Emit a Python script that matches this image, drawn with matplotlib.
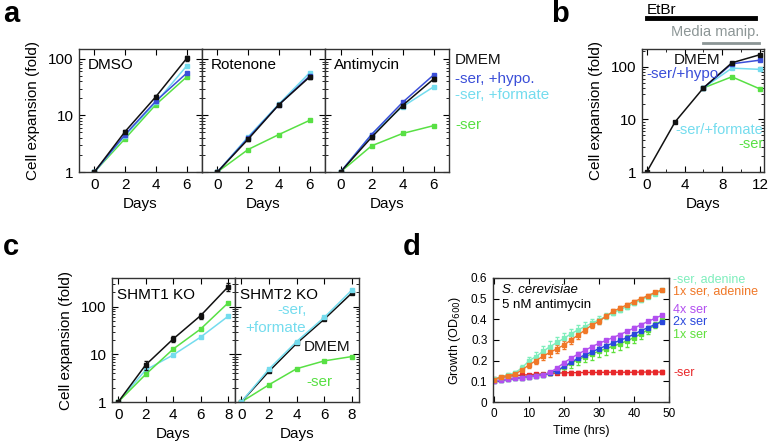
import numpy as np
import matplotlib
matplotlib.use('Agg')
import matplotlib.pyplot as plt
from matplotlib.ticker import LogLocator, NullFormatter, FixedLocator, FixedFormatter

plt.rcParams['font.family'] = ['Liberation Sans', 'DejaVu Sans']
plt.rcParams['font.size'] = 10
plt.rcParams['axes.linewidth'] = 1.0
plt.rcParams['axes.edgecolor'] = '#333333'

# colours
c_dmem = '#111111'
c_hypo = '#3b4fd8'
c_form = '#74dcee'
c_ser = '#58e044'

# ---------------- panel a ----------------
days_a = [0, 2, 4, 6]
a_titles = ['DMSO', 'Rotenone', 'Antimycin']
a_dmem = [[1, 5.2, 21.5, 102], [1, 3.8, 15.5, 48], [1, 4.1, 15, 44]]
a_hypo = [[1, 4.6, 18, 56], [1, 4.0, 15.5, 50], [1, 4.6, 17, 52]]
a_form = [[1, 4.4, 17, 75], [1, 4.2, 16, 57], [1, 4.6, 14.3, 32]]
a_noser = [[1, 3.9, 15.6, 48], [1, 2.5, 4.6, 8.2], [1, 2.9, 4.8, 6.6]]
a_err_dmem = [[0, 0.3, 1.5, 9], [0, 0.2, 0.8, 3], [0, 0.2, 0.8, 3]]

# ---------------- panel b ----------------
days_b = [0, 3, 6, 9, 12]
b_dmem = [1, 9, 40, 120, 172]
days_b2 = [6, 9, 12]
b_hypo = [40, 115, 135]
b_form = [40, 95, 90]
b_noser = [40, 65, 38]

# ---------------- panel c ----------------
days_c = [0, 2, 4, 6, 8]
c1_dmem = [1, 6, 21, 65, 262]
c1_noser = [1, 3.8, 12.9, 34, 120]
c1_form = [1, 4.7, 9.7, 23, 63]
c1_err = [0, 1.2, 3, 10, 45]
c2_dmem = [1, 4.4, 17, 55, 195]
c2_form = [1, 4.9, 18.6, 60, 225]
c2_noser = [1, 2.3, 5.0, 7.3, 9.0]

# ---------------- panel d ----------------
hours = [0, 2, 4, 6, 8, 10, 12, 14, 16, 18, 20, 22, 24, 26, 28, 30, 32, 34, 36, 38, 40, 42, 44, 46, 48]
d_noser = [0.110, 0.118, 0.124, 0.128, 0.130, 0.132, 0.134, 0.136, 0.138, 0.140, 0.141, 0.142, 0.142,
           0.143, 0.143, 0.143, 0.144, 0.144, 0.144, 0.144, 0.144, 0.145, 0.145, 0.145, 0.145]
d_noser_ade = [0.110, 0.122, 0.132, 0.142, 0.165, 0.200, 0.220, 0.245, 0.268, 0.288, 0.308, 0.330, 0.349,
               0.365, 0.382, 0.397, 0.415, 0.432, 0.447, 0.462, 0.478, 0.494, 0.510, 0.525, 0.540]
d_1x_ade = [0.108, 0.122, 0.128, 0.135, 0.155, 0.180, 0.200, 0.222, 0.240, 0.258, 0.276, 0.300, 0.324,
            0.348, 0.373, 0.390, 0.415, 0.438, 0.455, 0.470, 0.486, 0.500, 0.515, 0.530, 0.543]
d_4x = [0.100, 0.105, 0.110, 0.114, 0.118, 0.122, 0.127, 0.132, 0.143, 0.165, 0.190, 0.212, 0.232,
        0.250, 0.268, 0.284, 0.298, 0.312, 0.326, 0.342, 0.358, 0.374, 0.390, 0.405, 0.420]
d_2x = [0.100, 0.105, 0.110, 0.114, 0.118, 0.122, 0.127, 0.132, 0.140, 0.152, 0.172, 0.192, 0.212,
        0.228, 0.243, 0.258, 0.272, 0.285, 0.298, 0.312, 0.328, 0.345, 0.360, 0.375, 0.388]
d_1x = [0.100, 0.105, 0.110, 0.114, 0.118, 0.122, 0.127, 0.132, 0.140, 0.150, 0.168, 0.188, 0.205,
        0.220, 0.233, 0.246, 0.258, 0.270, 0.282, 0.296, 0.312, 0.330, 0.350, 0.372, 0.395]
e_noser_ade = [0.003, 0.005, 0.008, 0.010, 0.015, 0.020, 0.022, 0.025, 0.025, 0.025, 0.025, 0.025, 0.025,
               0.022, 0.020, 0.018, 0.015, 0.012, 0.010, 0.010, 0.010, 0.008, 0.008, 0.006, 0.005]
e_1x_ade = [0.003, 0.005, 0.008, 0.010, 0.012, 0.015, 0.018, 0.020, 0.020, 0.020, 0.020, 0.020, 0.018,
            0.016, 0.014, 0.012, 0.010, 0.010, 0.008, 0.008, 0.006, 0.006, 0.006, 0.005, 0.005]
e_1x = [0.002, 0.002, 0.003, 0.003, 0.004, 0.004, 0.005, 0.006, 0.008, 0.012, 0.018, 0.022, 0.025,
        0.028, 0.030, 0.030, 0.030, 0.030, 0.030, 0.030, 0.028, 0.025, 0.020, 0.015, 0.010]
e_small = [0.002, 0.002, 0.003, 0.003, 0.003, 0.003, 0.003, 0.004, 0.005, 0.006, 0.008, 0.008, 0.008,
           0.008, 0.008, 0.008, 0.008, 0.008, 0.008, 0.008, 0.008, 0.008, 0.008, 0.008, 0.008]

fig = plt.figure(figsize=(7.68, 4.44), dpi=100)
W, H = 768.0, 444.0


def add_ax(x0, x1, y0, y1):
    return fig.add_axes([x0 / W, 1 - y1 / H, (x1 - x0) / W, (y1 - y0) / H])


def style(ax, fs=10):
    ax.tick_params(which='both', direction='in', top=True, right=True, labelsize=fs, pad=4)
    ax.tick_params(which='major', length=4, width=0.8)
    ax.tick_params(which='minor', length=2, width=0.6)


def logy(ax, lo, hi):
    ax.set_yscale('log')
    ax.set_ylim(lo, hi)
    ax.yaxis.set_minor_locator(LogLocator(base=10, subs=np.arange(2, 10), numticks=10))
    ax.yaxis.set_minor_formatter(NullFormatter())
    ax.yaxis.set_major_locator(FixedLocator([1, 10, 100]))
    ax.yaxis.set_major_formatter(FixedFormatter(['1', '10', '100']))


kw = dict(marker='s', markersize=2.5, linewidth=1.1)

# panel a
xs_a = [(79, 202), (202, 325), (325, 449)]
for i, (x0, x1) in enumerate(xs_a):
    ax = add_ax(x0, x1, 49, 172)
    style(ax, 11)
    logy(ax, 1, 150)
    ax.set_xlim(-1, 7)
    ax.set_xticks(days_a)
    ax.plot(days_a, a_noser[i], color=c_ser, **kw)
    ax.plot(days_a, a_form[i], color=c_form, **kw)
    ax.plot(days_a, a_hypo[i], color=c_hypo, **kw)
    ax.errorbar(days_a, a_dmem[i], yerr=a_err_dmem[i], color=c_dmem, capsize=1.5, elinewidth=0.8, **kw)
    ax.text(0.075, 0.87, a_titles[i], transform=ax.transAxes, fontsize=11, va='center')
    ax.set_xlabel('Days', fontsize=11, labelpad=4)
    if i == 0:
        ax.set_ylabel('Cell expansion (fold)', fontsize=11, labelpad=6)
    else:
        ax.tick_params(axis='y', labelleft=False)

fig.text(455 / W, 1 - 60 / H, 'DMEM', color=c_dmem, fontsize=11, va='center')
fig.text(455 / W, 1 - 79 / H, '-ser, +hypo.', color=c_hypo, fontsize=11, va='center')
fig.text(455 / W, 1 - 95 / H, '-ser, +formate', color=c_form, fontsize=11, va='center')
fig.text(455 / W, 1 - 125 / H, '-ser', color=c_ser, fontsize=11, va='center')

# panel b
ax = add_ax(642, 764, 49, 172)
style(ax, 11)
logy(ax, 1, 220)
ax.set_xlim(-0.5, 12.4)
ax.set_xticks([0, 4, 8, 12])
ax.set_xticks([2, 6, 10], minor=True)
ax.plot(days_b2, b_noser, color=c_ser, **kw)
ax.plot(days_b2, b_form, color=c_form, **kw)
ax.plot(days_b2, b_hypo, color=c_hypo, **kw)
ax.plot(days_b, b_dmem, color=c_dmem, **kw)
ax.set_xlabel('Days', fontsize=11, labelpad=4)
ax.set_ylabel('Cell expansion (fold)', fontsize=11, labelpad=6)
ax.text(0.45, 0.91, 'DMEM', transform=ax.transAxes, fontsize=11, ha='center', va='center', color=c_dmem)
ax.text(0.33, 0.80, '-ser/+hypo', transform=ax.transAxes, fontsize=11, ha='center', va='center', color=c_hypo)
ax.text(0.995, 0.345, '-ser/+formate', transform=ax.transAxes, fontsize=10.5, ha='right', va='center', color=c_form)
ax.text(0.995, 0.225, '-ser', transform=ax.transAxes, fontsize=10.5, ha='right', va='center', color=c_ser)
trans = ax.get_xaxis_transform()
ax.plot([0, 11.4], [1.252, 1.252], color='black', lw=3.5, transform=trans, clip_on=False)
ax.text(0, 1.32, 'EtBr', transform=trans, fontsize=11, va='center', ha='left')
ax.plot([6, 11.9], [1.05, 1.05], color='#8c9696', lw=2, transform=trans, clip_on=False)
ax.text(11.9, 1.135, 'Media manip.', transform=trans, fontsize=10.5, va='center', ha='right', color='#8c9696')

# panel c
for i, (x0, x1) in enumerate([(112, 235), (235, 359)]):
    ax = add_ax(x0, x1, 278, 402)
    style(ax, 11)
    logy(ax, 1, 400)
    ax.set_xlim(-0.45, 8.5)
    ax.set_xticks(days_c)
    ax.set_xlabel('Days', fontsize=11, labelpad=4)
    if i == 0:
        ax.plot(days_c, c1_form, color=c_form, **kw)
        ax.plot(days_c, c1_noser, color=c_ser, **kw)
        ax.errorbar(days_c, c1_dmem, yerr=c1_err, color=c_dmem, capsize=1.5, elinewidth=0.8, **kw)
        ax.text(0.04, 0.86, 'SHMT1 KO', transform=ax.transAxes, fontsize=11, va='center')
        ax.set_ylabel('Cell expansion (fold)', fontsize=11, labelpad=6)
    else:
        ax.plot(days_c, c2_noser, color=c_ser, **kw)
        ax.plot(days_c, c2_dmem, color=c_dmem, **kw)
        ax.plot(days_c, c2_form, color=c_form, **kw)
        ax.tick_params(axis='y', labelleft=False)
        ax.text(0.04, 0.86, 'SHMT2 KO', transform=ax.transAxes, fontsize=11, va='center')
        ax.text(0.46, 0.74, '-ser,', transform=ax.transAxes, fontsize=11, ha='center', va='center', color=c_form)
        ax.text(0.33, 0.60, '+formate', transform=ax.transAxes, fontsize=11, ha='center', va='center', color=c_form)
        ax.text(0.74, 0.44, 'DMEM', transform=ax.transAxes, fontsize=11, ha='center', va='center', color=c_dmem)
        ax.text(0.68, 0.16, '-ser', transform=ax.transAxes, fontsize=11, ha='center', va='center', color=c_ser)

# panel d
ax = add_ax(493, 669, 278, 402)
style(ax, 8.5)
ax.set_xlim(-0.3, 50)
ax.set_ylim(0, 0.6)
ax.set_xticks([0, 10, 20, 30, 40, 50])
ax.set_yticks([0, 0.1, 0.2, 0.3, 0.4, 0.5, 0.6])
ax.set_yticklabels(['0', '0.1', '0.2', '0.3', '0.4', '0.5', '0.6'])
dkw = dict(marker='s', markersize=3.2, linewidth=1.0, capsize=1.5, elinewidth=0.7)
d_series = [
    (d_noser, e_small, '#e8282a', '-ser', 373),
    (d_1x, e_1x, '#5fe03c', '1x ser', 335),
    (d_2x, e_small, '#2a48dc', '2x ser', 322),
    (d_4x, e_small, '#b24ff0', '4x ser', 310),
    (d_noser_ade, e_noser_ade, '#7eeebc', '-ser, adenine', 280),
    (d_1x_ade, e_1x_ade, '#f07828', '1x ser, adenine', 291),
]
for vals, err, col, lab, ypix in d_series:
    ax.errorbar(hours, vals, yerr=err, color=col, **dkw)
    fig.text(673 / W, 1 - ypix / H, lab, color=col, fontsize=9, va='center')
ax.text(0.05, 0.9, 'S. cerevisiae', transform=ax.transAxes, fontsize=9.5, style='italic', va='center')
ax.text(0.05, 0.785, '5 nM antimycin', transform=ax.transAxes, fontsize=9.5, va='center')
ax.set_xlabel('Time (hrs)', fontsize=9, labelpad=4)
ax.set_ylabel('Growth (OD$_{600}$)', fontsize=9, labelpad=6)

# panel letters
for lab, xp, yp in [('a', 3, 14), ('b', 551, 14), ('c', 3, 247), ('d', 403, 247)]:
    fig.text(xp / W, 1 - yp / H, lab, fontsize=21, fontweight='bold', va='center', ha='left')

fig.savefig('out.png', dpi=100)
